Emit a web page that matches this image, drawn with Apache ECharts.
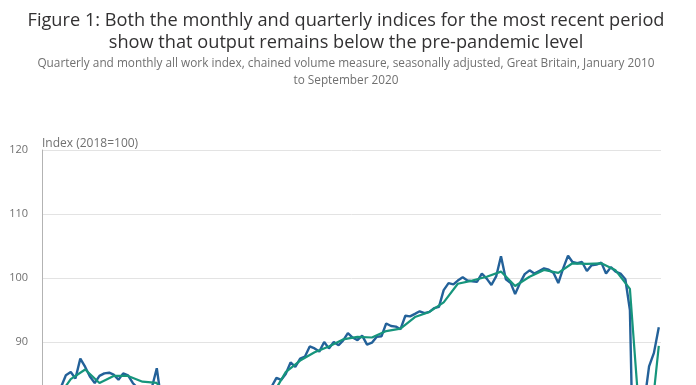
<!DOCTYPE html>
<html>
<head>
<meta charset="utf-8">
<script src="https://cdn.jsdelivr.net/npm/echarts@6/dist/echarts.min.js"></script>
<style>
html,body{margin:0;padding:0;overflow:hidden;background:#fff;}
#c{width:696px;height:640px;}
</style>
</head>
<body>
<div id="c"></div>
<script>
// ---- Text ----
const titleText = 'Figure 1: Both the monthly and quarterly indices for the most recent period\nshow that output remains below the pre-pandemic level';
const subtitleText = 'Quarterly and monthly all work index, chained volume measure, seasonally adjusted, Great Britain, January 2010\nto September 2020';
const yAxisName = 'Index (2018=100)';

// ---- Categories: months Jan 2010 .. Sep 2020 ----
const startYear = 2010, endYear = 2020, endMonth = 9;
const months = [];
for (let y = startYear; y <= endYear; y++) {
  for (let m = 1; m <= 12; m++) {
    if (y === endYear && m > endMonth) break;
    months.push(y + '-' + String(m).padStart(2, '0') + '-01');
  }
}

// ---- Monthly all work index (Jan 2010 .. Sep 2020) ----
const monthly = [
  77.5, 79.0, 81.0, 83.0, 84.8, 85.3, 84.3, 87.4, 86.1, 84.6, 83.6, 84.7,   // 2010
  85.1, 85.2, 84.9, 84.1, 85.1, 84.8, 83.6, 82.8, 82.6, 82.8, 83.0, 85.9,   // 2011
  80.5, 80.0, 79.2, 78.5, 78.0, 77.4, 78.8, 78.3, 78.0, 77.6, 77.9, 78.4,   // 2012
  76.5, 77.2, 76.8, 78.0, 78.8, 79.3, 80.2, 80.6, 80.9, 81.8, 81.5, 83.0,   // 2013
  84.4, 84.1, 85.0, 86.8, 86.1, 87.4, 87.7, 89.3, 89.0, 88.5, 90.0, 89.0,   // 2014
  90.0, 89.5, 90.2, 91.4, 90.7, 90.3, 91.0, 89.6, 89.9, 90.8, 90.9, 92.9,   // 2015
  92.5, 92.4, 92.0, 94.1, 94.0, 94.4, 94.8, 94.5, 94.7, 95.3, 95.5, 98.1,   // 2016
  99.2, 99.0, 99.6, 100.1, 99.6, 99.5, 99.4, 100.7, 99.9, 98.9, 100.3, 103.4, // 2017
  99.8, 99.2, 97.5, 99.2, 100.6, 101.2, 100.7, 101.1, 101.5, 101.3, 100.8, 99.2, // 2018
  101.5, 103.5, 102.5, 102.3, 102.5, 101.1, 102.0, 102.1, 102.4, 100.7, 101.7, 101.0, // 2019
  100.7, 99.8, 95.0, 59.0, 66.0, 80.6, 86.2, 88.3, 92.3                     // 2020
];

// ---- Quarterly all work index (Q1 2010 .. Q3 2020), plotted at quarter-end month ----
const quarterly = [
  81.0, 84.2, 85.7, 83.6,     // 2010
  84.7, 84.7, 83.8, 83.6,     // 2011
  80.0, 78.0, 78.4, 78.0,     // 2012
  76.9, 78.7, 80.6, 81.5,     // 2013
  85.3, 87.1, 88.4, 89.3,     // 2014
  90.4, 90.8, 90.7, 91.7,     // 2015
  92.1, 93.9, 94.7, 96.2,     // 2016
  99.1, 99.6, 100.2, 101.0,   // 2017
  98.75, 100.2, 101.25, 100.8,// 2018
  102.3, 102.2, 102.3, 101.2, // 2019
  98.3, 68.0, 89.4            // 2020
];

// ---- Y axis ticks ----
const yMin = 50, yMax = 120, yStep = 10;

const monthlyData = monthly.map((v, i) => [months[i], v]);
const quarterlyData = quarterly.map((v, q) => [months[q * 3 + 2], v]);

const chart = echarts.init(document.getElementById('c'), null, {renderer: 'canvas'});
const font = '"Open Sans", sans-serif';
chart.setOption({
  animation: false,
  backgroundColor: '#ffffff',
  title: {
    text: titleText,
    subtext: subtitleText,
    left: 341,
    top: 5,
    itemGap: 1,
    textAlign: 'center',
    textStyle: {fontFamily: font, fontSize: 18.2, fontWeight: 'normal', color: '#323132', lineHeight: 22},
    subtextStyle: {fontFamily: font, fontSize: 11.8, color: '#707070', lineHeight: 17}
  },
  grid: {left: 42, right: 35, top: 150, height: 448},
  xAxis: {
    type: 'time',
    min: '2009-11-30',
    max: '2020-09-15',
    axisLine: {show: false},
    axisTick: {show: false},
    axisLabel: {show: false},
    splitLine: {show: false}
  },
  yAxis: {
    type: 'value',
    min: yMin, max: yMax, interval: yStep,
    name: yAxisName,
    nameLocation: 'end',
    nameGap: 0,
    nameTextStyle: {fontFamily: font, fontSize: 12, color: '#707070', align: 'left'},
    axisLine: {show: true, lineStyle: {color: '#b3b3b3', width: 1}},
    axisTick: {show: false},
    axisLabel: {fontFamily: font, fontSize: 11, color: '#707070', margin: 14},
    splitLine: {lineStyle: {color: '#e3e3e3', width: 1}}
  },
  series: [
    {
      name: 'Monthly', type: 'line', data: monthlyData,
      showSymbol: false, symbol: 'none',
      lineStyle: {color: '#236199', width: 2.4}, itemStyle: {color: '#236199'}
    },
    {
      name: 'Quarterly', type: 'line', data: quarterlyData,
      showSymbol: false, symbol: 'none',
      lineStyle: {color: '#16957c', width: 2.2}, itemStyle: {color: '#16957c'}
    }
  ]
});
</script>
</body>
</html>
